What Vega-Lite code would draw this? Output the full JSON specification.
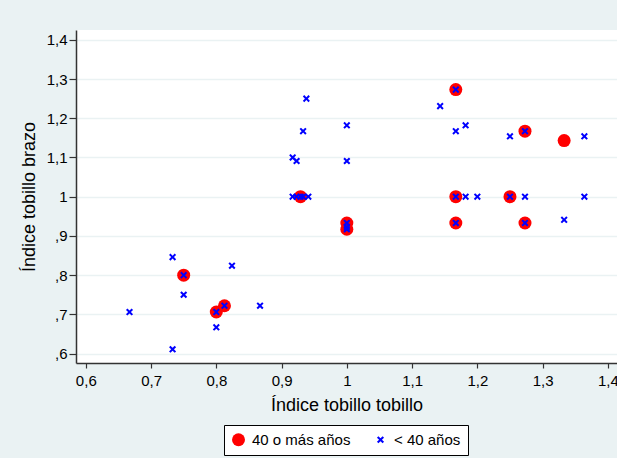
{
  "$schema": "https://vega.github.io/schema/vega-lite/v6.json",
  "width": 541,
  "height": 333,
  "autosize": {"type": "none"},
  "padding": {"left": 76, "top": 30, "right": 0, "bottom": 95},
  "background": "#EAF2F3",
  "config": {"view": {"fill": "white", "stroke": null}, "font": "Liberation Sans"},
  "data": {
    "values": [
      {"itt": 0.75, "itb": 0.80, "grupo": "40 o más años"},
      {"itt": 0.80, "itb": 0.706, "grupo": "40 o más años"},
      {"itt": 0.8125, "itb": 0.722, "grupo": "40 o más años"},
      {"itt": 0.929, "itb": 1.0, "grupo": "40 o más años"},
      {"itt": 1.0, "itb": 0.933, "grupo": "40 o más años"},
      {"itt": 1.0, "itb": 0.917, "grupo": "40 o más años"},
      {"itt": 1.167, "itb": 1.273, "grupo": "40 o más años"},
      {"itt": 1.167, "itb": 1.0, "grupo": "40 o más años"},
      {"itt": 1.167, "itb": 0.933, "grupo": "40 o más años"},
      {"itt": 1.25, "itb": 1.0, "grupo": "40 o más años"},
      {"itt": 1.273, "itb": 1.167, "grupo": "40 o más años"},
      {"itt": 1.273, "itb": 0.933, "grupo": "40 o más años"},
      {"itt": 1.333, "itb": 1.143, "grupo": "40 o más años"},
      {"itt": 0.667, "itb": 0.706, "grupo": "< 40 años"},
      {"itt": 0.733, "itb": 0.846, "grupo": "< 40 años"},
      {"itt": 0.733, "itb": 0.611, "grupo": "< 40 años"},
      {"itt": 0.75, "itb": 0.80, "grupo": "< 40 años"},
      {"itt": 0.75, "itb": 0.75, "grupo": "< 40 años"},
      {"itt": 0.80, "itb": 0.706, "grupo": "< 40 años"},
      {"itt": 0.80, "itb": 0.667, "grupo": "< 40 años"},
      {"itt": 0.8125, "itb": 0.722, "grupo": "< 40 años"},
      {"itt": 0.824, "itb": 0.824, "grupo": "< 40 años"},
      {"itt": 0.867, "itb": 0.722, "grupo": "< 40 años"},
      {"itt": 0.917, "itb": 1.1, "grupo": "< 40 años"},
      {"itt": 0.923, "itb": 1.091, "grupo": "< 40 años"},
      {"itt": 0.933, "itb": 1.167, "grupo": "< 40 años"},
      {"itt": 0.938, "itb": 1.25, "grupo": "< 40 años"},
      {"itt": 0.917, "itb": 1.0, "grupo": "< 40 años"},
      {"itt": 0.923, "itb": 1.0, "grupo": "< 40 años"},
      {"itt": 0.929, "itb": 1.0, "grupo": "< 40 años"},
      {"itt": 0.933, "itb": 1.0, "grupo": "< 40 años"},
      {"itt": 0.941, "itb": 1.0, "grupo": "< 40 años"},
      {"itt": 1.0, "itb": 1.182, "grupo": "< 40 años"},
      {"itt": 1.0, "itb": 1.091, "grupo": "< 40 años"},
      {"itt": 1.0, "itb": 0.933, "grupo": "< 40 años"},
      {"itt": 1.0, "itb": 0.923, "grupo": "< 40 años"},
      {"itt": 1.0, "itb": 0.917, "grupo": "< 40 años"},
      {"itt": 1.143, "itb": 1.231, "grupo": "< 40 años"},
      {"itt": 1.167, "itb": 1.273, "grupo": "< 40 años"},
      {"itt": 1.167, "itb": 1.167, "grupo": "< 40 años"},
      {"itt": 1.182, "itb": 1.182, "grupo": "< 40 años"},
      {"itt": 1.25, "itb": 1.154, "grupo": "< 40 años"},
      {"itt": 1.273, "itb": 1.167, "grupo": "< 40 años"},
      {"itt": 1.364, "itb": 1.154, "grupo": "< 40 años"},
      {"itt": 1.167, "itb": 1.0, "grupo": "< 40 años"},
      {"itt": 1.182, "itb": 1.0, "grupo": "< 40 años"},
      {"itt": 1.2, "itb": 1.0, "grupo": "< 40 años"},
      {"itt": 1.25, "itb": 1.0, "grupo": "< 40 años"},
      {"itt": 1.273, "itb": 1.0, "grupo": "< 40 años"},
      {"itt": 1.364, "itb": 1.0, "grupo": "< 40 años"},
      {"itt": 1.167, "itb": 0.933, "grupo": "< 40 años"},
      {"itt": 1.273, "itb": 0.933, "grupo": "< 40 años"},
      {"itt": 1.333, "itb": 0.941, "grupo": "< 40 años"}
    ]
  },
  "mark": {"type": "point", "filled": true, "opacity": 1, "strokeWidth": 0},
  "encoding": {
    "x": {
      "field": "itt", "type": "quantitative",
      "scale": {"domain": [0.585, 1.414], "nice": false, "zero": false},
      "axis": {
        "title": "Índice tobillo tobillo",
        "values": [0.6, 0.7, 0.8, 0.9, 1.0, 1.1, 1.2, 1.3, 1.4],
        "labelExpr": "format(datum.value,'.1f') == '1.0' ? '1' : replace(format(datum.value,'.1f'),'.',',')",
        "grid": false,
        "tickSize": 5, "tickColor": "#333", "tickWidth": 1.2,
        "domainColor": "#333", "domainWidth": 1.5,
        "labelFontSize": 15, "labelColor": "#000", "labelPadding": 5, "labelFlush": false,
        "titleFontSize": 18, "titleFontWeight": "normal", "titleColor": "#000", "titlePadding": 8
      }
    },
    "y": {
      "field": "itb", "type": "quantitative",
      "scale": {"domain": [0.576, 1.425], "nice": false, "zero": false},
      "axis": {
        "title": "Índice tobillo brazo",
        "values": [0.6, 0.7, 0.8, 0.9, 1.0, 1.1, 1.2, 1.3, 1.4],
        "labelExpr": "format(datum.value,'.1f') == '1.0' ? '1' : (datum.value < 1 ? replace(format(datum.value,'.1f'),'0.',',') : replace(format(datum.value,'.1f'),'.',','))",
        "grid": true, "gridColor": "#EAF2F3", "gridWidth": 1.5,
        "tickSize": 7, "tickColor": "#333", "tickWidth": 1.2,
        "domainColor": "#333", "domainWidth": 1.5,
        "labelFontSize": 15, "labelColor": "#000", "labelPadding": 2,
        "titleFontSize": 18, "titleFontWeight": "normal", "titleColor": "#000", "titlePadding": 8
      }
    },
    "color": {
      "field": "grupo", "type": "nominal",
      "scale": {"domain": ["40 o más años", "< 40 años"], "range": ["#FF0000", "#0000FF"]},
      "legend": {"title": null, "orient": "none", "legendX": 148, "legendY": 395, "direction": "horizontal", "fillColor": "white", "strokeColor": "#000", "padding": 7, "labelFontSize": 15, "labelColor": "#000", "columnPadding": 22, "labelOffset": 6, "symbolOpacity": 1, "symbolStrokeWidth": 0}
    },
    "shape": {
      "field": "grupo", "type": "nominal",
      "scale": {"domain": ["40 o más años", "< 40 años"], "range": ["circle", "M-1,-0.6L-0.6,-1L0,-0.4L0.6,-1L1,-0.6L0.4,0L1,0.6L0.6,1L0,0.4L-0.6,1L-1,0.6L-0.4,0Z"]},
      "legend": {"title": null, "orient": "none", "legendX": 148, "legendY": 395, "direction": "horizontal", "fillColor": "white", "strokeColor": "#000", "padding": 7, "labelFontSize": 15, "labelColor": "#000", "columnPadding": 22, "labelOffset": 6, "symbolOpacity": 1, "symbolStrokeWidth": 0}
    },
    "size": {
      "field": "grupo", "type": "nominal",
      "scale": {"domain": ["40 o más años", "< 40 años"], "range": [169, 50]},
      "legend": {"title": null, "orient": "none", "legendX": 148, "legendY": 395, "direction": "horizontal", "fillColor": "white", "strokeColor": "#000", "padding": 7, "labelFontSize": 15, "labelColor": "#000", "columnPadding": 22, "labelOffset": 6, "symbolOpacity": 1, "symbolStrokeWidth": 0}
    }
  }
}
